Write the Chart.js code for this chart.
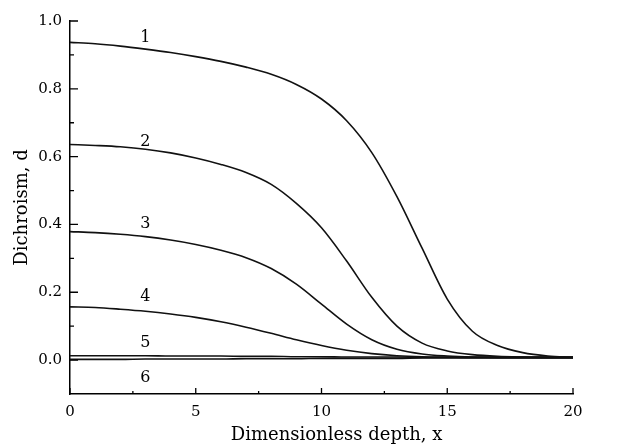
<!DOCTYPE html>
<html>
<head>
<meta charset="utf-8">
<script src="https://cdn.jsdelivr.net/npm/chart.js@4.4.1/dist/chart.umd.min.js"></script>
<style>
  html, body { margin: 0; padding: 0; background: #fff; }
</style>
</head>
<body>
<canvas id="chart" width="621" height="446"></canvas>
<script>
// depth samples, shared by all curves
const depth = [0, 1, 2, 3, 4, 5, 6, 7, 8, 9, 10, 11, 12, 13, 14, 15, 16, 17, 18, 19, 20];

const curve1 = [0.937, 0.933, 0.926, 0.917, 0.907, 0.895, 0.881, 0.864, 0.843, 0.813, 0.770,
                0.706, 0.612, 0.482, 0.330, 0.180, 0.085, 0.043, 0.022, 0.012, 0.008];
const curve2 = [0.636, 0.633, 0.629, 0.622, 0.611, 0.596, 0.577, 0.553, 0.518, 0.462, 0.390,
                0.292, 0.185, 0.100, 0.050, 0.027, 0.016, 0.011, 0.009, 0.008, 0.008];
const curve3 = [0.379, 0.376, 0.371, 0.364, 0.354, 0.341, 0.324, 0.302, 0.270, 0.224, 0.165,
                0.106, 0.060, 0.032, 0.018, 0.012, 0.009, 0.008, 0.008, 0.008, 0.008];
const curve4 = [0.157, 0.155, 0.150, 0.144, 0.136, 0.126, 0.113, 0.097, 0.079, 0.060, 0.043,
                0.029, 0.019, 0.013, 0.010, 0.009, 0.008, 0.008, 0.008, 0.008, 0.008];
const curve5 = [0.013, 0.013, 0.013, 0.013, 0.012, 0.012, 0.012, 0.011, 0.011, 0.010, 0.010,
                0.009, 0.009, 0.009, 0.008, 0.008, 0.008, 0.008, 0.008, 0.008, 0.008];
const curve6 = [0.002, 0.002, 0.002, 0.003, 0.003, 0.003, 0.003, 0.004, 0.004, 0.004, 0.005,
                0.005, 0.005, 0.005, 0.006, 0.006, 0.006, 0.006, 0.006, 0.006, 0.006];

const curveNames = ["1", "2", "3", "4", "5", "6"];
// where each curve number sits (data units)
const labelDepth = [3, 3, 3, 3, 3, 3];
const labelLevel = [0.95, 0.644, 0.401, 0.186, 0.051, -0.053];

const xTicks = [0, 5, 10, 15, 20];
const xMinorTicks = [2.5, 7.5, 12.5, 17.5];
const yTicks = [0, 0.2, 0.4, 0.6, 0.8, 1.0];
const yMinorTicks = [0.1, 0.3, 0.5, 0.7, 0.9];

const xTitle = "Dimensionless depth, x";
const yTitle = "Dichroism, d";

const FONT = '"DejaVu Serif", "Liberation Serif", serif';

const curves = [curve1, curve2, curve3, curve4, curve5, curve6];

// inward ticks, curve numbers and the x title
const extras = {
  id: "extras",
  afterDraw(chart) {
    const { ctx, chartArea, scales: { x, y } } = chart;
    ctx.save();
    ctx.strokeStyle = "#000";
    ctx.lineWidth = 1.3;
    ctx.beginPath();
    xTicks.forEach(v => {
      const px = x.getPixelForValue(v);
      ctx.moveTo(px, chartArea.bottom);
      ctx.lineTo(px, chartArea.bottom - 6);
    });
    xMinorTicks.forEach(v => {
      const px = x.getPixelForValue(v);
      ctx.moveTo(px, chartArea.bottom);
      ctx.lineTo(px, chartArea.bottom - 3);
    });
    yTicks.forEach(v => {
      const py = y.getPixelForValue(v);
      ctx.moveTo(chartArea.left, py);
      ctx.lineTo(chartArea.left + 8, py);
    });
    yMinorTicks.forEach(v => {
      const py = y.getPixelForValue(v);
      ctx.moveTo(chartArea.left, py);
      ctx.lineTo(chartArea.left + 4, py);
    });
    ctx.stroke();

    ctx.fillStyle = "#000";
    ctx.textAlign = "center";
    ctx.textBaseline = "middle";
    ctx.font = "16px " + FONT;
    curveNames.forEach((t, i) => {
      ctx.fillText(t, x.getPixelForValue(labelDepth[i]), y.getPixelForValue(labelLevel[i]));
    });

    ctx.font = "18px " + FONT;
    ctx.fillText(xTitle, x.getPixelForValue(10.6), chart.height - 11);
    ctx.restore();
  }
};

new Chart(document.getElementById("chart"), {
  type: "line",
  data: {
    datasets: curves.map((c, i) => ({
      label: curveNames[i],
      data: depth.map((d, j) => ({ x: d, y: c[j] })),
      borderColor: "#111",
      borderWidth: 1.6,
      pointRadius: 0,
      fill: false,
      cubicInterpolationMode: "monotone"
    }))
  },
  options: {
    responsive: false,
    animation: false,
    devicePixelRatio: 1,
    layout: { padding: { top: 21, right: 48, bottom: 0, left: 0 } },
    plugins: {
      legend: { display: false },
      tooltip: { enabled: false }
    },
    scales: {
      x: {
        type: "linear",
        min: 0,
        max: 20,
        afterBuildTicks: s => { s.ticks = xTicks.map(v => ({ value: v })); },
        afterFit: s => { s.height = 52; },
        grid: { display: false, drawTicks: false },
        border: { display: true, color: "#000", width: 1.5 },
        ticks: {
          color: "#000",
          font: { family: FONT, size: 15 },
          padding: 9,
          maxRotation: 0,
          autoSkip: false
        }
      },
      y: {
        min: -0.1,
        max: 1.0,
        afterBuildTicks: s => { s.ticks = yTicks.map(v => ({ value: v })); },
        afterFit: s => { s.width = 70; },
        grid: { display: false, drawTicks: false },
        border: { display: true, color: "#000", width: 1.5 },
        ticks: {
          color: "#000",
          font: { family: FONT, size: 15 },
          padding: 8,
          callback: v => v.toFixed(1)
        },
        title: {
          display: true,
          text: yTitle,
          color: "#000",
          font: { family: FONT, size: 18 },
          padding: { top: 12, bottom: 0 }
        }
      }
    }
  },
  plugins: [extras]
});
</script>
</body>
</html>
